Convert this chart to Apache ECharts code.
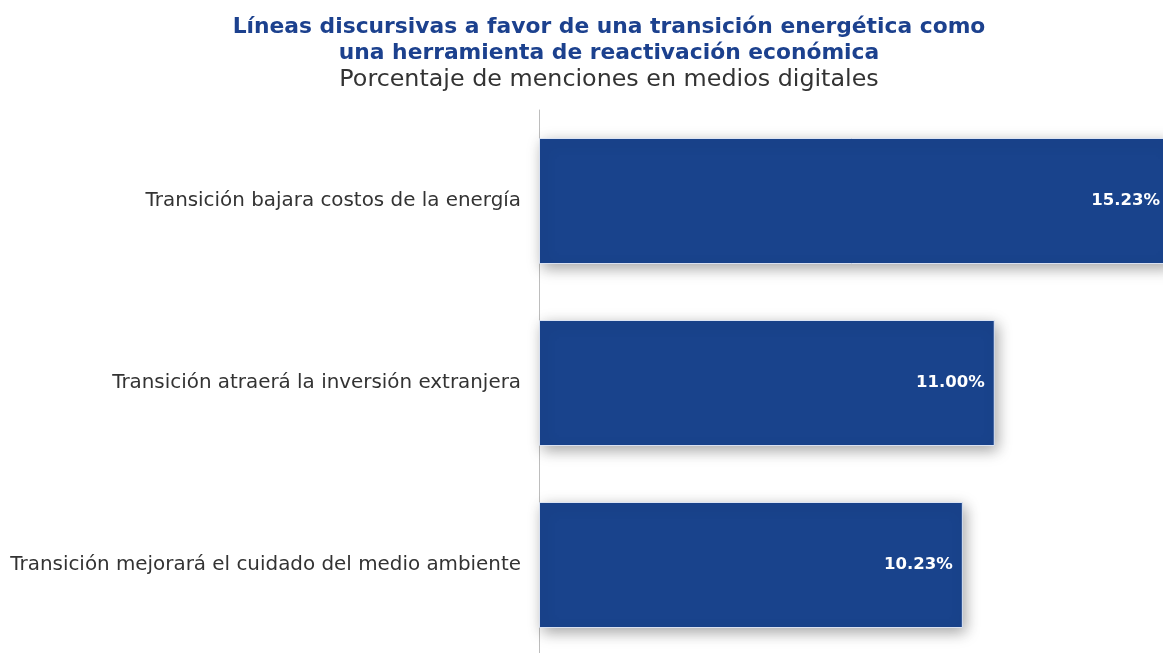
<!DOCTYPE html>
<html>
<head>
<meta charset="utf-8">
<script src="https://cdn.jsdelivr.net/npm/echarts@6/dist/echarts.min.js"></script>
<style>
  html, body { margin: 0; padding: 0; background: #fff; }
  #chart { width: 1163px; height: 653px; }
</style>
</head>
<body>
<div id="chart"></div>
<script>
// datos
var categories = [
  'Transición bajara costos de la energía',
  'Transición atraerá la inversión extranjera',
  'Transición mejorará el cuidado del medio ambiente'
]
var values = [15.23, 11.00, 10.23]

var chart = echarts.init(document.getElementById('chart'))

var option = {
  backgroundColor: '#fff',
  title: [
    {
      text: 'Líneas discursivas a favor de una transición energética como\nuna herramienta de reactivación económica',
      left: 604,
      top: 9,
      textAlign: 'center',
      textStyle: {
        color: '#1c418e',
        fontFamily: 'DejaVu Sans',
        fontWeight: 'bold',
        fontSize: 21.8,
        lineHeight: 26
      }
    },
    {
      text: 'Porcentaje de menciones en medios digitales',
      left: 604,
      top: 63,
      textAlign: 'center',
      textStyle: {
        color: '#333',
        fontFamily: 'DejaVu Sans',
        fontWeight: 'normal',
        fontSize: 23.8
      }
    }
  ],
  grid: {
    left: 539,
    top: 110,
    width: 631,
    height: 546,
    outerBoundsMode: 'none'
  },
  xAxis: {
    type: 'value',
    min: 0,
    max: 15.23,
    show: false
  },
  yAxis: {
    type: 'category',
    data: categories,
    inverse: true,
    axisLine: {
      lineStyle: { color: '#bdbdbd', width: 1 }
    },
    axisTick: { show: false },
    axisLabel: {
      color: '#333',
      fontFamily: 'DejaVu Sans',
      fontSize: 19.9,
      margin: 18
    }
  },
  series: [
    {
      type: 'bar',
      data: values,
      barWidth: 126,
      itemStyle: {
        color: '#19438c',
        borderColor: 'rgba(230,236,250,0.9)',
        borderWidth: 1,
        shadowColor: 'rgba(0,0,0,0.35)',
        shadowBlur: 14,
        shadowOffsetX: 3,
        shadowOffsetY: 4
      },
      label: {
        show: true,
        position: 'insideRight',
        distance: 10,
        color: '#fff',
        fontFamily: 'DejaVu Sans',
        fontWeight: 'bold',
        fontSize: 16.5,
        formatter: function (p) {
          return p.value.toFixed(2) + '%'
        }
      }
    }
  ]
}

chart.setOption(option)
</script>
</body>
</html>
